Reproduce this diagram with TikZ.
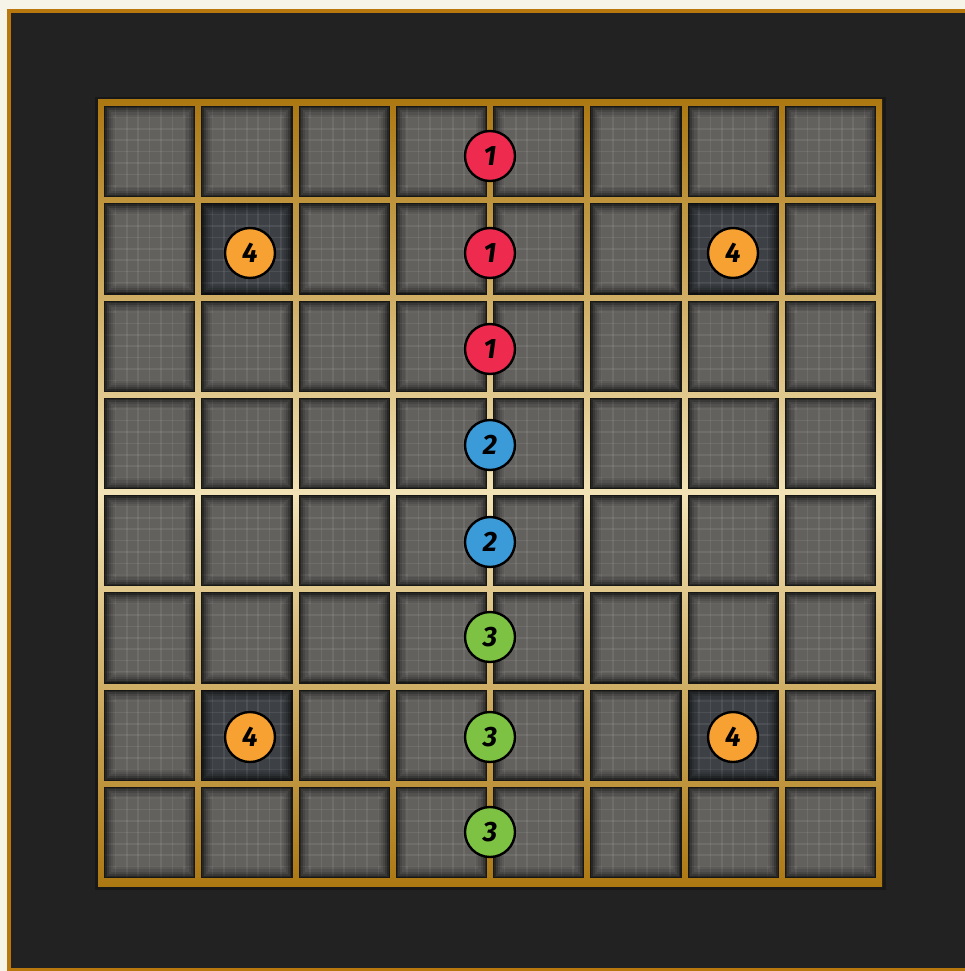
\documentclass[tikz,border=0pt]{standalone}
\usepackage{fontspec}
\newfontfamily\digitfont{Fira Sans}
\usetikzlibrary{positioning}
\definecolor{paper}{HTML}{F6F3E9}
\definecolor{panel}{HTML}{222222}
\definecolor{frame}{HTML}{B8780E}
\definecolor{gridedge}{HTML}{AC7812}
\definecolor{gridmid}{HTML}{F2E3B6}
\definecolor{tilelight}{HTML}{62615E}
\definecolor{coldlight}{HTML}{3D4145}
\definecolor{redmark}{HTML}{EE2A4F}
\definecolor{bluemark}{HTML}{3A9BD8}
\definecolor{greenmark}{HTML}{7DC242}
\definecolor{orangemark}{HTML}{F7A132}
\newcommand{\drawtile}[3]{%
  \fill[#3] (#1,#2) rectangle ++(91.25,91.25);
  \foreach \k in {1,...,7}{
    \draw[white,opacity=.08,line width=1.6pt] ({#1+\k*11.4},{#2}) -- ++(0,91.25);
    \draw[white,opacity=.08,line width=1.6pt] ({#1},{#2+\k*11.4}) -- ++(91.25,0);
  }
  \foreach \w/\o in {12/.07,9/.09,6.5/.13,4.5/.2,2.5/.3,1.2/.4}{
    \draw[black,opacity=\o,line width=\w pt] ({#1+\w/2},{#2+\w/2}) rectangle ++({91.25-\w},{91.25-\w});
  }
}
\tikzset{
  marker/.style={circle,draw=black,line width=2.4pt,minimum size=50pt,inner sep=0pt,
    font=\digitfont\bfseries\itshape\fontsize{28}{28}\selectfont},
}

\begin{document}
\begin{tikzpicture}[x=1pt,y=-1pt]
\useasboundingbox (0,0) rectangle (965,971);
\fill[paper] (0,0) rectangle (965,971);
\fill[panel] (7,9) rectangle (980,975);
\draw[frame,line width=4pt] (9,11) rectangle (985,970);
% board: shaded backing shows through the gaps as the grid lines
\fill[black!30!panel] (95,97) rectangle (886,890);
\shade[top color=gridedge,bottom color=gridedge,middle color=gridmid] (98,100) rectangle (882,886);
\foreach \c in {0,...,7}{
  \foreach \r in {0,...,7}{
    \drawtile{104+\c*97.25}{106+\r*97.25}{tilelight}
  }
}
\foreach \c/\r in {1/1,6/1,1/6,6/6}{
  \drawtile{104+\c*97.25}{106+\r*97.25}{coldlight}
}
\node[marker,fill=redmark] (red1) at (490,156) {1};
\node[marker,fill=redmark] (red2) at (490,253) {1};
\node[marker,fill=redmark] (red3) at (490,349) {1};
\node[marker,fill=bluemark] (blue1) at (490,445) {2};
\node[marker,fill=bluemark] (blue2) at (490,542) {2};
\node[marker,fill=greenmark] (green1) at (490,637) {3};
\node[marker,fill=greenmark] (green2) at (490,737) {3};
\node[marker,fill=greenmark] (green3) at (490,832) {3};
\node[marker,fill=orangemark] (orange1) at (250,253) {4};
\node[marker,fill=orangemark] (orange2) at (733,253) {4};
\node[marker,fill=orangemark] (orange3) at (250,737) {4};
\node[marker,fill=orangemark] (orange4) at (733,737) {4};
\end{tikzpicture}
\end{document}
